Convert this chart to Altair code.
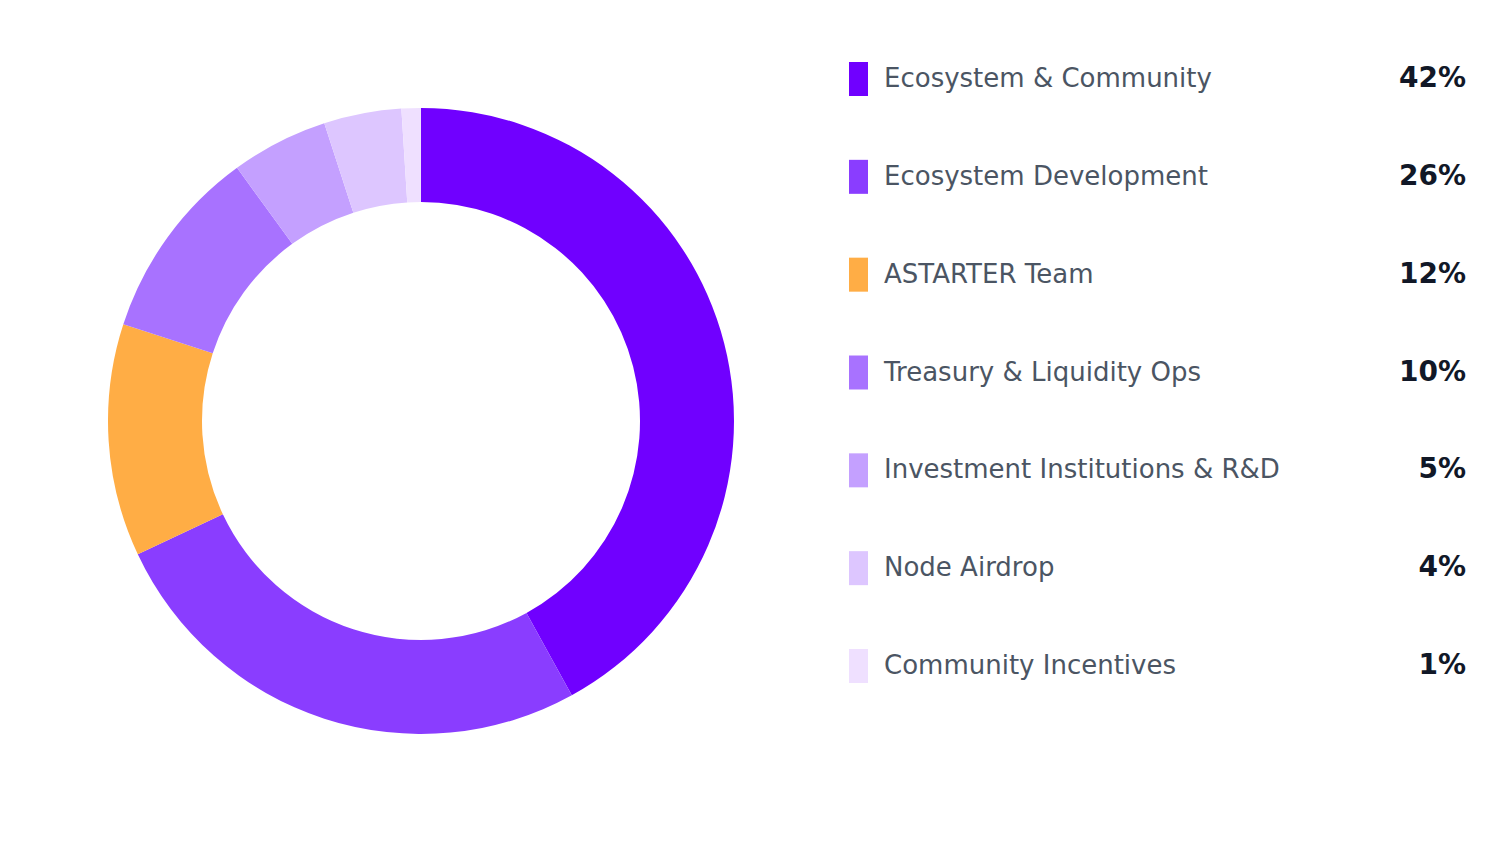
import altair as alt
import pandas as pd

categories = [
    "Ecosystem & Community",
    "Ecosystem Development",
    "ASTARTER Team",
    "Treasury & Liquidity Ops",
    "Investment Institutions & R&D",
    "Node Airdrop",
    "Community Incentives",
]
values = [42, 26, 12, 10, 5, 4, 1]
colors = ["#7000ff", "#8a3dff", "#ffad45", "#a872ff", "#c4a0ff", "#ddc6ff", "#efe0ff"]

df = pd.DataFrame({
    "category": categories,
    "value": values,
    "order": list(range(len(categories))),
    "pct": [f"{v}%" for v in values],
})

color_scale = alt.Scale(domain=categories, range=colors)

pie = alt.Chart(df).mark_arc(outerRadius=313, innerRadius=219).encode(
    theta=alt.Theta("value:Q", stack=True),
    order=alt.Order("order:Q"),
    color=alt.Color("category:N", scale=color_scale, legend=None),
).properties(width=826, height=826)

ybase = alt.Y("category:N", sort=categories,
              scale=alt.Scale(type="point", range=[71, 658], padding=0), axis=None)

leg_base = alt.Chart(df).encode(y=ybase)

swatch = leg_base.mark_tick(orient="vertical", thickness=19, size=34, opacity=1).encode(
    x=alt.value(24.5),
    color=alt.Color("category:N", scale=color_scale, legend=None),
)
labels = leg_base.mark_text(align="left", baseline="middle", font="DejaVu Sans",
                            fontSize=26, color="#4b5563").encode(
    x=alt.value(50), text="category:N")
pcts = leg_base.mark_text(align="right", baseline="middle", font="DejaVu Sans",
                          fontSize=28, fontWeight="bold", color="#111827").encode(
    x=alt.value(632), text="pct:N")

legend = alt.layer(swatch, labels, pcts).properties(width=650, height=826)

chart = alt.hconcat(pie, legend, spacing=0).properties(padding=0).configure_view(stroke=None)

chart.save("out.html", embed_options={"renderer": "svg", "actions": False})
